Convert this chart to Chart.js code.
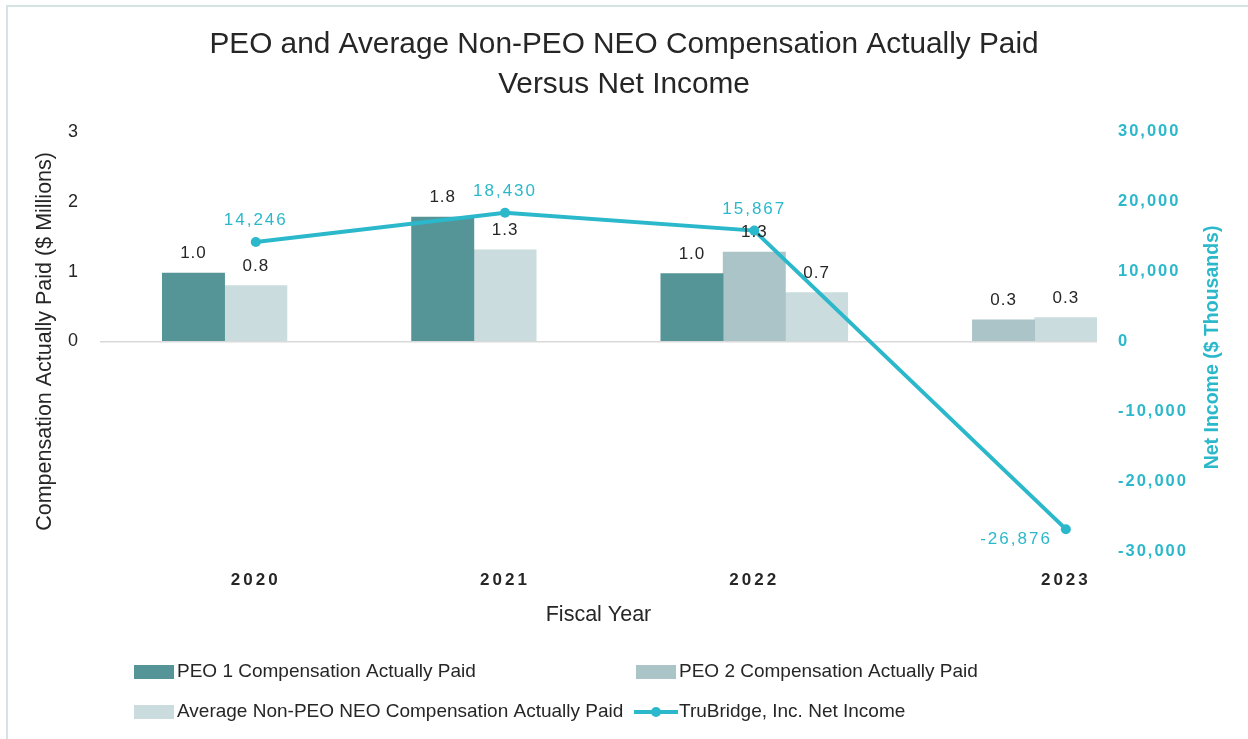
<!DOCTYPE html>
<html>
<head>
<meta charset="utf-8">
<script src="https://cdn.jsdelivr.net/npm/chart.js@4.4.0/dist/chart.umd.min.js"></script>
<style>
  html, body { margin: 0; padding: 0; background: #fff; }
  #wrap { position: relative; width: 1248px; height: 739px; overflow: hidden; }
  #frame { position: absolute; left: 6px; top: 5px; width: 1260px; height: 760px;
           border-top: 2px solid #D5E3E4; border-left: 2px solid #D5E3E4; }
  #chart { position: absolute; left: 0; top: 0; }
</style>
</head>
<body>
<div id="wrap">
  <div id="frame"></div>
  <canvas id="chart" width="1248" height="739"></canvas>
</div>
<script>
// values
var years = ['2020', '2021', '2022', '2023'];
var peo1Paid = [0.98, 1.78, 0.97, null];
var peo2Paid = [null, null, 1.28, 0.31];
var avgNonPeoPaid = [0.80, 1.31, 0.70, 0.34];
var netIncome = [14246, 18430, 15867, -26876];

var seriesNames = [
    'PEO 1 Compensation Actually Paid',
    'PEO 2 Compensation Actually Paid',
    'Average Non-PEO NEO Compensation Actually Paid',
    'TruBridge, Inc. Net Income'
];
var barColors = ['#559598', '#AAC4C7', '#CADCDE'];
var lineColor = '#2CB8CB';
var textColor = '#262626';
var fontFamily = '"Liberation Sans", Arial, sans-serif';

// each year only gets slots for the bars it has, 2 empty slots between years,
// the net income point sits on the second bar of its year
var gapSlots = 2;
var barSeries = [peo1Paid, peo2Paid, avgNonPeoPaid];
var barPoints = [[], [], []];
var linePoints = [];
var yearPos = [];
var slot = 0;
years.forEach(function (yr, i) {
    var start = slot;
    barSeries.forEach(function (arr, s) {
        if (arr[i] !== null) {
            barPoints[s].push({x: slot, y: arr[i]});
            slot++;
        }
    });
    yearPos.push(start + 1);
    linePoints.push({x: start + 1, y: netIncome[i]});
    slot += gapSlots;
});
var xMin = -gapSlots + 0.5;
var xMax = slot - gapSlots - 0.5;

var tickSpacing = {x: '3px', y: '0px', y1: '2px'};

var spacingPlugin = {
    id: 'spacing',
    beforeDraw: function (chart) {
        Object.keys(chart.scales).forEach(function (id) {
            var s = chart.scales[id];
            if (s._wrapped) return;
            var orig = s.drawLabels;
            s.drawLabels = function (area) {
                var ctx = this.ctx;
                ctx.save();
                ctx.letterSpacing = tickSpacing[id] || '0px';
                orig.call(this, area);
                ctx.restore();
            };
            s._wrapped = true;
        });
    }
};

var labelPlugin = {
    id: 'valueLabels',
    afterDatasetsDraw: function (chart) {
        var ctx = chart.ctx;
        ctx.save();
        chart.data.datasets.forEach(function (ds, di) {
            var meta = chart.getDatasetMeta(di);
            meta.data.forEach(function (el, j) {
                var v = ds.data[j].y;
                ctx.font = '17px ' + fontFamily;
                if (ds.type === 'line') {
                    ctx.letterSpacing = '2px';
                    ctx.fillStyle = lineColor;
                    var txt = v.toLocaleString('en-US');
                    if (v < 0) {
                        ctx.textAlign = 'right';
                        ctx.fillText(txt, el.x - 14, el.y + 15);
                    } else {
                        ctx.textAlign = 'center';
                        ctx.fillText(txt, el.x, el.y - 17);
                    }
                } else {
                    ctx.letterSpacing = '1px';
                    ctx.fillStyle = textColor;
                    ctx.textAlign = 'center';
                    ctx.fillText(v.toFixed(1), el.x, el.y - 15);
                }
            });
        });
        ctx.restore();
    }
};

var legendPlugin = {
    id: 'gridLegend',
    afterDraw: function (chart) {
        var ctx = chart.ctx;
        var cols = [134, 636];
        var rows = [672, 712];
        ctx.save();
        chart.data.datasets.forEach(function (ds, i) {
            var x = cols[i % 2];
            var y = rows[Math.floor(i / 2)];
            if (ds.type === 'line') {
                ctx.strokeStyle = ds.borderColor;
                ctx.lineWidth = 4;
                ctx.beginPath();
                ctx.moveTo(x - 2, y);
                ctx.lineTo(x + 42, y);
                ctx.stroke();
                ctx.fillStyle = ds.borderColor;
                ctx.beginPath();
                ctx.arc(x + 20, y, 5, 0, Math.PI * 2);
                ctx.fill();
            } else {
                ctx.fillStyle = ds.backgroundColor;
                ctx.fillRect(x, y - 7, 40, 14);
            }
            ctx.fillStyle = textColor;
            ctx.font = '19px ' + fontFamily;
            ctx.textBaseline = 'middle';
            ctx.textAlign = 'left';
            ctx.fillText(ds.label, x + 43, y);
        });

        // right axis title reads bottom to top
        var s = chart.scales.y1;
        ctx.translate(s.right - 35, (chart.chartArea.top + chart.chartArea.bottom) / 2 + 6);
        ctx.rotate(-Math.PI / 2);
        ctx.font = 'bold 19.5px ' + fontFamily;
        ctx.fillStyle = lineColor;
        ctx.textAlign = 'center';
        ctx.textBaseline = 'middle';
        ctx.fillText('Net Income ($ Thousands)', 0, 0);
        ctx.restore();
    }
};

var ctx = document.getElementById('chart');

var chart = new Chart(ctx, {
    type: 'bar',
    data: {
        datasets: [
            {label: seriesNames[0], data: barPoints[0], backgroundColor: barColors[0], yAxisID: 'y', order: 1},
            {label: seriesNames[1], data: barPoints[1], backgroundColor: barColors[1], yAxisID: 'y', order: 1},
            {label: seriesNames[2], data: barPoints[2], backgroundColor: barColors[2], yAxisID: 'y', order: 1},
            {type: 'line', label: seriesNames[3], data: linePoints, yAxisID: 'y1',
             borderColor: lineColor, backgroundColor: lineColor, borderWidth: 4,
             pointRadius: 5, pointBackgroundColor: lineColor, pointBorderWidth: 0, order: 0}
        ]
    },
    options: {
        responsive: false,
        animation: false,
        grouped: false,
        categoryPercentage: 1,
        barPercentage: 1,
        layout: {padding: {left: 0, right: 0, top: 0, bottom: 100}},
        plugins: {
            legend: {display: false},
            tooltip: {enabled: false},
            title: {
                display: true,
                text: ['PEO and Average Non-PEO NEO Compensation Actually Paid', 'Versus Net Income'],
                color: textColor,
                font: {family: fontFamily, size: 29.8, weight: 'normal', lineHeight: 1.34},
                padding: {top: 25, bottom: 27}
            }
        },
        scales: {
            x: {
                type: 'linear',
                offset: false,
                min: xMin,
                max: xMax,
                grid: {display: false, offset: false},
                border: {display: false},
                afterBuildTicks: function (scale) {
                    scale.ticks = yearPos.map(function (p) { return {value: p}; });
                },
                afterFit: function (scale) { scale.height = 88; },
                ticks: {
                    autoSkip: false,
                    maxRotation: 0,
                    padding: 11,
                    color: textColor,
                    font: {family: fontFamily, size: 17, weight: 'bold'},
                    callback: function (v) { return years[yearPos.indexOf(v)]; }
                },
                title: {
                    display: true,
                    text: 'Fiscal Year',
                    color: textColor,
                    font: {family: fontFamily, size: 21.5},
                    padding: {top: 0, bottom: 11}
                }
            },
            y: {
                position: 'left',
                min: -3,
                max: 3,
                afterFit: function (scale) { scale.width = 100; },
                grid: {
                    drawTicks: false,
                    lineWidth: 1.5,
                    color: function (c) { return c.tick && c.tick.value === 0 ? '#D9D9D9' : 'rgba(0,0,0,0)'; }
                },
                border: {display: false},
                ticks: {
                    stepSize: 1,
                    padding: 22,
                    color: textColor,
                    font: {family: fontFamily, size: 18},
                    callback: function (v) { return v >= 0 ? v : ''; }
                },
                title: {
                    display: true,
                    text: 'Compensation Actually Paid ($ Millions)',
                    color: textColor,
                    font: {family: fontFamily, size: 21.5},
                    padding: {top: 32, bottom: 0}
                }
            },
            y1: {
                position: 'right',
                min: -30000,
                max: 30000,
                afterFit: function (scale) { scale.width = 151; },
                grid: {display: false, drawTicks: false},
                border: {display: false},
                ticks: {
                    stepSize: 10000,
                    padding: 21,
                    color: lineColor,
                    font: {family: fontFamily, size: 16.5, weight: 'bold'}
                }
            }
        }
    },
    plugins: [spacingPlugin, labelPlugin, legendPlugin]
});
</script>
</body>
</html>
